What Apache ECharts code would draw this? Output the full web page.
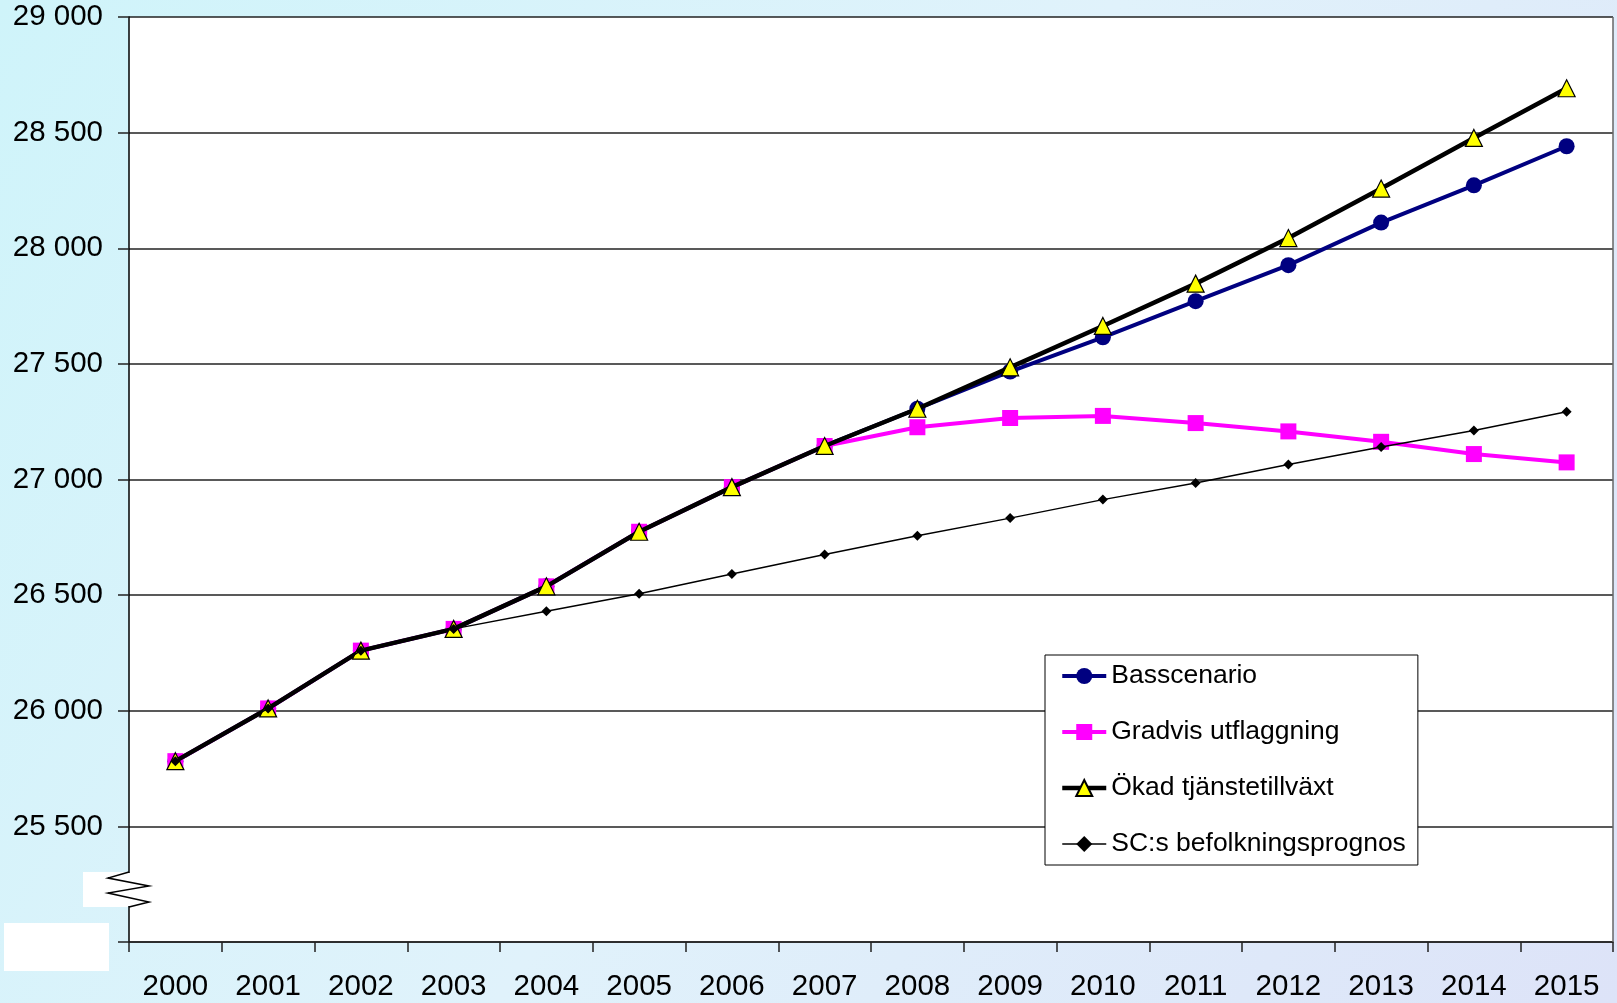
<!DOCTYPE html>
<html><head><meta charset="utf-8">
<script src="https://cdn.jsdelivr.net/npm/echarts@6/dist/echarts.min.js"></script>
<style>html,body{margin:0;padding:0;}#c{width:1617px;height:1003px;}</style>
</head><body><div id="c"></div>
<script>
const years = ['2000','2001','2002','2003','2004','2005','2006','2007','2008','2009','2010','2011','2012','2013','2014','2015'];
const basscenario = [25782,26010,26260,26354,26538,26774,26967,27145,27306,27467,27615,27771,27927,28111,28272,28441];
const gradvis = [25782,26010,26260,26354,26538,26774,26967,27145,27226,27266,27275,27244,27208,27163,27110,27074];
const okad = [25782,26010,26260,26354,26538,26774,26967,27145,27306,27485,27664,27847,28044,28258,28477,28692];
const scs = [25782,26010,26260,26354,26430,26506,26591,26676,26757,26833,26913,26985,27065,27141,27212,27293];
const names = ['Basscenario','Gradvis utflaggning','Ökad tjänstetillväxt','SC:s befolkningsprognos'];

const chart = echarts.init(document.getElementById('c'));
const font = 'Liberation Sans, Arial, sans-serif';
chart.setOption({
  backgroundColor: {type:'linear',x:0,y:0,x2:1,y2:1,colorStops:[
    {offset:0,color:'#cff4fa'},{offset:0.5,color:'#e0f2fb'},{offset:1,color:'#dde3f8'}]},
  animation:false,
  textStyle:{fontFamily:font},
  grid:{left:129,top:17,right:4,bottom:61,show:true,backgroundColor:'#ffffff',borderWidth:0},
  legend:{
    orient:'vertical',left:1045,top:655,
    backgroundColor:'#ffffff',borderColor:'#000',borderWidth:1,
    padding:[6,12,6,15],itemGap:26,itemWidth:44,itemHeight:20,
    textStyle:{fontSize:26.5,color:'#000',fontFamily:font,lineHeight:30},
    data:[
      {name:names[0],lineStyle:{width:4}},
      {name:names[1],lineStyle:{width:4}},
      {name:names[2],lineStyle:{width:4.5}},
      {name:names[3],lineStyle:{width:1.5}}
    ]
  },
  xAxis:{type:'category',data:years,boundaryGap:true,
    axisLine:{lineStyle:{color:'#222',width:1.5}},
    axisTick:{show:true,length:10,lineStyle:{color:'#222',width:1.5}},
    axisLabel:{fontSize:29.5,color:'#000',margin:30,fontFamily:font},
    splitLine:{show:false}},
  yAxis:{type:'value',min:25000,max:29000,interval:500,
    axisLine:{show:true,lineStyle:{color:'#000',width:1.5}},
    axisTick:{show:true,length:11,lineStyle:{color:'#222',width:1.5}},
    axisLabel:{fontSize:29.5,color:'#000',margin:26,fontFamily:font,
      formatter:v=> v===25000 ? '' : String(v).replace(/\B(?=(\d{3})+(?!\d))/g,' ')},
    splitLine:{show:true,lineStyle:{color:'#222',width:1.5}}},
  graphic:[
    {type:'line',shape:{x1:1613,y1:17,x2:1613,y2:942},style:{stroke:'#666',lineWidth:1.5},z:5},
    {type:'rect',shape:{x:83,y:872,width:45,height:35},style:{fill:'#fff'},z:10},
    {type:'rect',shape:{x:4,y:923,width:105,height:48},style:{fill:'#fff'},z:10},
    {type:'rect',shape:{x:127,y:873,width:4,height:33},style:{fill:'#fff'},z:10},
    {type:'polyline',shape:{points:[[129,872],[108,878],[149,886],[108,893],[149,902],[129,907]]},
      style:{stroke:'#000',lineWidth:1.5,fill:null},z:11}
  ],
  series:[
    {name:names[0],type:'line',data:basscenario,symbol:'circle',symbolSize:16,
      lineStyle:{color:'#000080',width:4},itemStyle:{color:'#000080'},z:2},
    {name:names[1],type:'line',data:gradvis,symbol:'rect',symbolSize:16,
      lineStyle:{color:'#ff00ff',width:4},itemStyle:{color:'#ff00ff'},z:3},
    {name:names[2],type:'line',data:okad,symbol:'triangle',symbolSize:[17,17],
      lineStyle:{color:'#000',width:4.5},itemStyle:{color:'#ffff00',borderColor:'#000',borderWidth:1.2},z:4},
    {name:names[3],type:'line',data:scs,symbol:'diamond',symbolSize:10,
      lineStyle:{color:'#000',width:1.5},itemStyle:{color:'#000'},z:5}
  ]
});
</script></body></html>
